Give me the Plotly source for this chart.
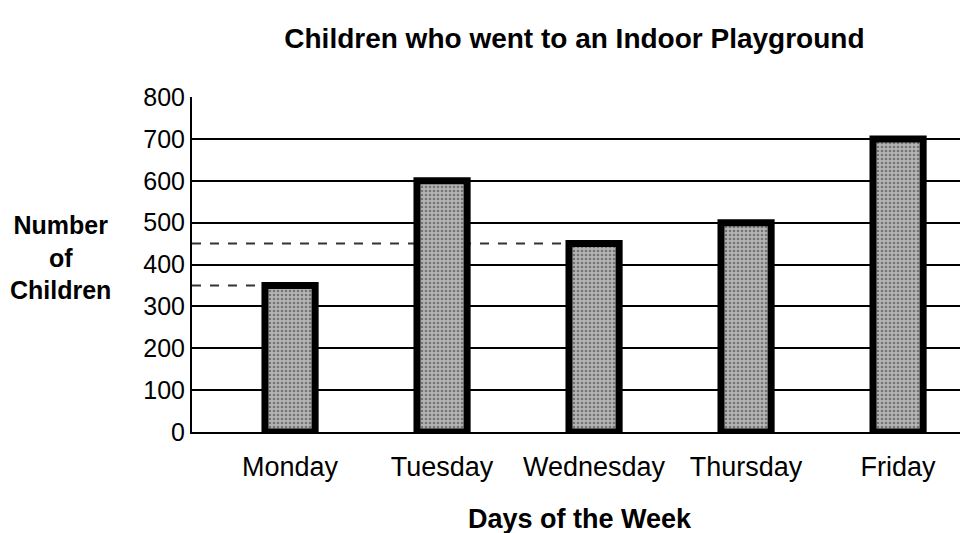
import plotly.graph_objects as go

days = ["Monday", "Tuesday", "Wednesday", "Thursday", "Friday"]
children = [350, 600, 450, 500, 700]
y_ticks = [0, 100, 200, 300, 400, 500, 600, 700, 800]
# hand-drawn dashed guide lines: (level, day the line runs to)
guide_levels = [450, 350]
guide_days = ["Wednesday", "Monday"]

title_text = "Children who went to an Indoor Playground"
x_title = "Days of the Week"
y_title = "Number<br>of<br>Children"

BAR_W = 0.33
X_MIN = -0.645
FONT = "Liberation Sans, Arial, sans-serif"

fig = go.Figure()
fig.add_trace(go.Bar(
    x=days, y=children, width=BAR_W,
    marker=dict(
        color="#a0a0a0",
        line=dict(color="black", width=7),
        pattern=dict(shape=".", fgcolor="#333333", bgcolor="#b4b4b4", size=4, solidity=0.35),
    ),
    showlegend=False,
))

for lvl, d in zip(guide_levels, guide_days):
    idx = days.index(d)
    fig.add_shape(type="line", xref="x", yref="y", x0=X_MIN, x1=idx - BAR_W / 2 - 0.02,
                  y0=lvl, y1=lvl, line=dict(color="#333", width=2, dash="dash"), layer="below")

fig.update_layout(
    width=960, height=525,
    margin=dict(l=184, r=0, t=89, b=101, autoexpand=False),
    paper_bgcolor="white", plot_bgcolor="white",
    font=dict(family=FONT, color="black"),
    title=dict(text="<b>" + title_text + "</b>", x=0.59, xanchor="center", y=0.943, yanchor="middle",
               font=dict(size=28, family=FONT, color="black")),
    xaxis=dict(
        range=[X_MIN, 4.46], showgrid=False, showline=True, linecolor="black", linewidth=2,
        tickfont=dict(size=27, family=FONT), ticks="", ticklabelstandoff=10,
        zeroline=False, automargin=False,
    ),
    yaxis=dict(
        range=[0, 800], tickvals=y_ticks, showgrid=True, gridcolor="black", gridwidth=2,
        showline=True, linecolor="black", linewidth=2, ticks="", ticklabelstandoff=0,
        tickfont=dict(size=25, family=FONT), zeroline=False, automargin=False,
    ),
)

fig.add_annotation(text="<b>" + y_title + "</b>", xref="paper", yref="paper", x=-0.17, y=0.52,
                   xanchor="center", yanchor="middle", showarrow=False,
                   font=dict(size=25, family=FONT, color="black"), align="center")
fig.add_annotation(text="<b>" + x_title + "</b>", xref="paper", yref="paper", x=0.5, y=-0.26,
                   xanchor="center", yanchor="middle", showarrow=False,
                   font=dict(size=27, family=FONT, color="black"))

fig.write_html("out.html")
